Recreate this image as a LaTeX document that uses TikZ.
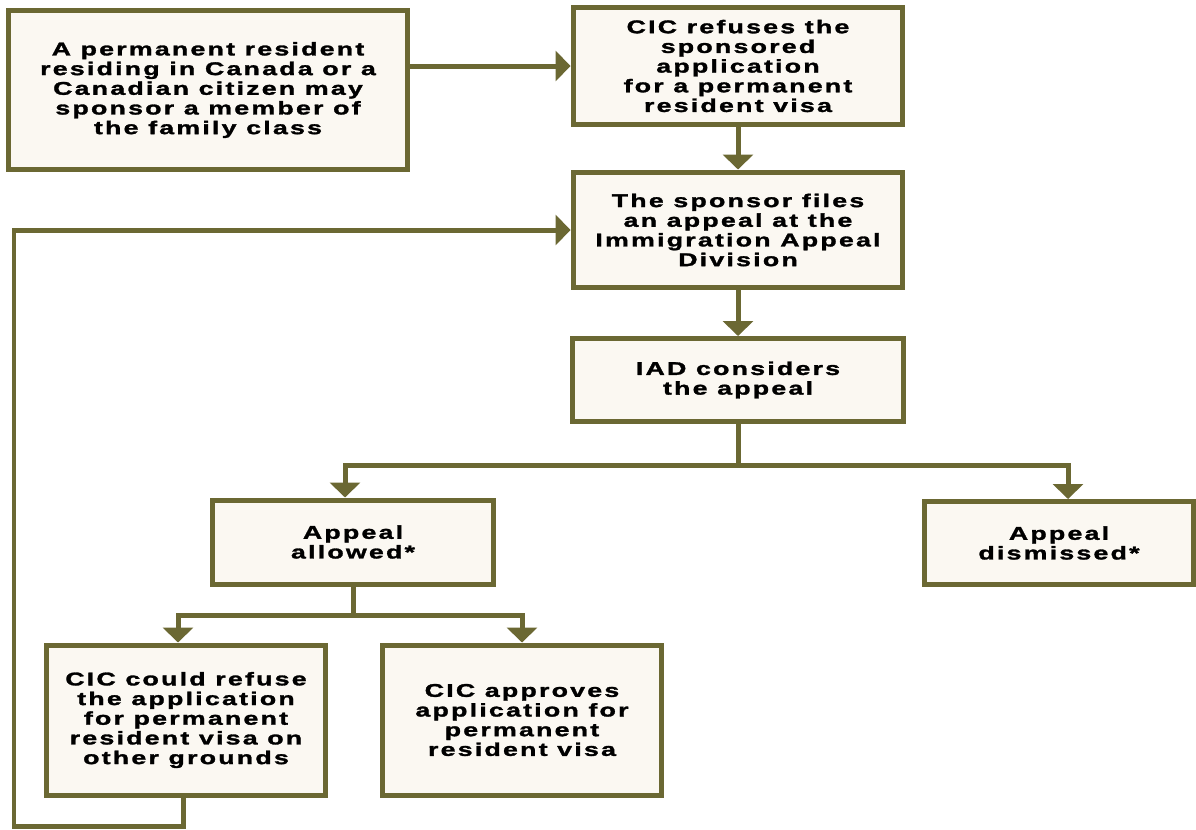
\documentclass[tikz,border=0pt]{standalone}
\usepackage{fontspec}
\newfontfamily\chartfont{Liberation Sans}[FakeStretch=1.45,LetterSpace=12,FakeBold=1.6]
\usetikzlibrary{arrows.meta}
\definecolor{lineolive}{RGB}{107,104,51}
\definecolor{boxcream}{RGB}{251,248,242}

\begin{document}
\begin{tikzpicture}[x=0.02cm,y=-0.02cm,
  box/.style={draw=lineolive,fill=boxcream,line width=0.1cm,align=center,
    font=\chartfont\bfseries\fontsize{10.5}{11.2}\selectfont},
  link/.style={draw=lineolive,line width=0.1cm},
  arrow/.style={link,-{Triangle[width=17pt,length=8.5pt]}}]
\useasboundingbox (0,0) rectangle (1196,829);
% boxes
\node[box,minimum width=8cm,minimum height=3.2cm] (sponsor) at (208,90) {A permanent resident\\residing in Canada or a\\Canadian citizen may\\sponsor a member of\\the family class};
\node[box,minimum width=6.6cm,minimum height=2.36cm] (refuses) at (738,66) {CIC refuses the\\sponsored\\application\\for a permanent\\resident visa};
\node[box,minimum width=6.6cm,minimum height=2.32cm] (files) at (738,230) {The sponsor files\\an appeal at the\\Immigration Appeal\\Division};
\node[box,minimum width=6.64cm,minimum height=1.66cm] (considers) at (738,380) {IAD considers\\the appeal};
\node[box,minimum width=5.64cm,minimum height=1.68cm] (allowed) at (353,542) {Appeal\\allowed*};
\node[box,minimum width=5.38cm,minimum height=1.66cm] (dismissed) at (1059,543) {Appeal\\dismissed*};
\node[box,minimum width=5.6cm,minimum height=3cm] (couldrefuse) at (186,720) {CIC could refuse\\the application\\for permanent\\resident visa on\\other grounds};
\node[box,minimum width=5.58cm,minimum height=3cm] (approves) at (522,720) {CIC approves\\application for\\permanent\\resident visa};
% connectors
\coordinate (split) at (738,465);
\coordinate (split2) at (353,615);
\coordinate (loopbottom) at (14,826);
\draw[arrow] (refuses.west -| sponsor.east) -- (refuses.west);
\draw[arrow] (refuses.south) -- (files.north);
\draw[arrow] (files.south) -- (considers.north);
\draw[link] (considers.south) -- (split);
\draw[arrow] (split) -| ([xshift=-0.16cm]allowed.north);
\draw[arrow] (split) -| ([xshift=0.18cm]dismissed.north);
\draw[link] (allowed.south) -- (split2);
\draw[arrow] (split2) -| ([xshift=-0.16cm]couldrefuse.north);
\draw[arrow] (split2) -| (approves.north);
\draw[arrow] ([xshift=-0.06cm]couldrefuse.south) |- (loopbottom) |- (files.west);
\end{tikzpicture}
\end{document}
